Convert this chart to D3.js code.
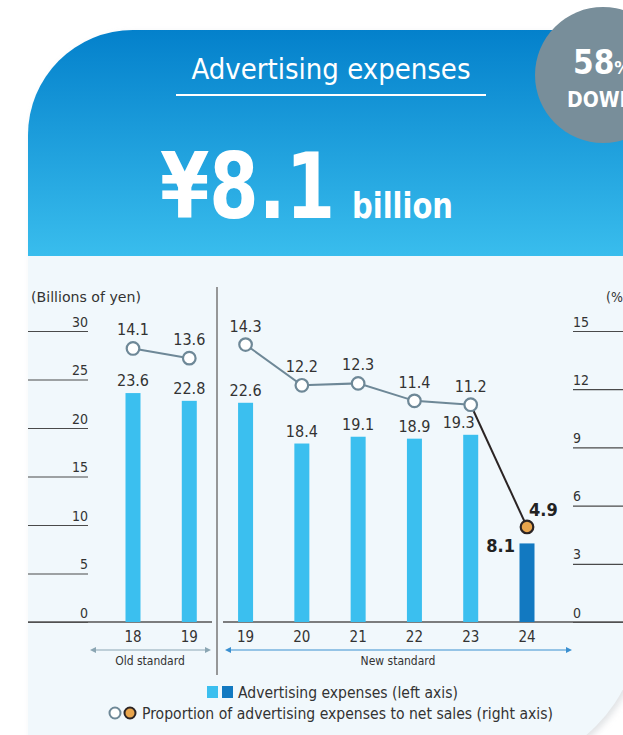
<!DOCTYPE html>
<html>
<head>
<meta charset="utf-8">
<script src="https://cdn.jsdelivr.net/npm/d3@7"></script>
<style>
  html, body { margin: 0; padding: 0; background: #ffffff; }
  svg { display: block; }
  text { font-family: "Liberation Sans Narrow", "DejaVu Sans Condensed", "Roboto", sans-serif; }
</style>
</head>
<body>
<svg id="chart" width="623" height="735"></svg>
<script>
// Fiscal years (old accounting standard: first two, new standard: the rest)
const years = ["18", "19", "19", "20", "21", "22", "23", "24"];
const standards = ["old", "old", "new", "new", "new", "new", "new", "new"];
// Advertising expenses, billions of yen (left axis)
const expenses = [23.6, 22.8, 22.6, 18.4, 19.1, 18.9, 19.3, 8.1];
// Advertising expenses as % of net sales (right axis)
const ratios = [14.1, 13.6, 14.3, 12.2, 12.3, 11.4, 11.2, 4.9];
const leftTicks = [0, 5, 10, 15, 20, 25, 30];
const rightTicks = [0, 3, 6, 9, 12, 15];

const svg = d3.select("#chart");
const defs = svg.append("defs");

// Card outline: large rounded top-left and bottom-right corners
const cardPath = "M28,770 L28,135 A105,105 0 0 1 133,30 L640,30 L640,620 A150,150 0 0 1 490,770 Z";
defs.append("clipPath").attr("id", "card").append("path").attr("d", cardPath);

const grad = defs.append("linearGradient").attr("id", "hdr")
  .attr("x1", 0).attr("y1", 0).attr("x2", 0).attr("y2", 1);
grad.append("stop").attr("offset", "0%").attr("stop-color", "#0380cb");
grad.append("stop").attr("offset", "100%").attr("stop-color", "#39bded");

const shadow = defs.append("filter").attr("id", "soft").attr("x", "-10%").attr("y", "-10%").attr("width", "130%").attr("height", "130%");
shadow.append("feGaussianBlur").attr("stdDeviation", 3);

// soft shadow under the card's lower right corner
svg.append("path").attr("d", cardPath).attr("fill", "#c9cdd1").attr("opacity", 0.55)
  .attr("transform", "translate(3,3)").attr("filter", "url(#soft)");

const card = svg.append("g").attr("clip-path", "url(#card)");
card.append("rect").attr("x", 28).attr("y", 256).attr("width", 620).attr("height", 520).attr("fill", "#f1f8fc");
card.append("rect").attr("x", 28).attr("y", 28).attr("width", 620).attr("height", 228).attr("fill", "url(#hdr)");

// Header
svg.append("text").attr("x", 331).attr("y", 79).attr("text-anchor", "middle")
  .attr("fill", "#fff").attr("font-size", 28)
  .attr("textLength", 279).attr("lengthAdjust", "spacingAndGlyphs")
  .text("Advertising expenses");
svg.append("line").attr("x1", 176).attr("x2", 486).attr("y1", 95).attr("y2", 95)
  .attr("stroke", "#fff").attr("stroke-width", 2);
svg.append("text").attr("x", 160).attr("y", 218)
  .attr("fill", "#fff").attr("font-size", 90).attr("font-weight", "bold")
  .attr("textLength", 175).attr("lengthAdjust", "spacingAndGlyphs")
  .text("¥8.1");
svg.append("text").attr("x", 352).attr("y", 218)
  .attr("fill", "#fff").attr("font-size", 36).attr("font-weight", "bold")
  .attr("textLength", 101).attr("lengthAdjust", "spacingAndGlyphs")
  .text("billion");

// Badge
svg.append("circle").attr("cx", 603).attr("cy", 75).attr("r", 68).attr("fill", "#788e9a");
const badge = svg.append("text").attr("x", 573).attr("y", 74).attr("fill", "#fff").attr("font-weight", "bold");
badge.append("tspan").attr("font-size", 33).text("58");
badge.append("tspan").attr("font-size", 18).text("%");
svg.append("text").attr("x", 567).attr("y", 107).attr("fill", "#fff")
  .attr("font-weight", "bold").attr("font-size", 21).text("DOWN");

// Scales
const x = d3.scalePoint().domain(d3.range(years.length)).range([133, 527]);
const yL = d3.scaleLinear().domain([0, 30]).range([622, 331]);
const yR = d3.scaleLinear().domain([0, 15]).range([622, 331]);

const textColor = "#333";

// Axis captions
svg.append("text").attr("x", 31).attr("y", 302).attr("font-size", 14).attr("fill", textColor)
  .attr("textLength", 110).attr("lengthAdjust", "spacingAndGlyphs").text("(Billions of yen)");
svg.append("text").attr("x", 606).attr("y", 302).attr("font-size", 14).attr("fill", textColor).text("(%)");

// Left axis: short rules with the value sitting on top
const axL = svg.append("g").attr("transform", "translate(28,0)")
  .call(d3.axisRight(yL).tickValues(leftTicks).tickSize(60).tickFormat(d3.format("d")));
axL.select(".domain").remove();
axL.selectAll(".tick line").attr("stroke", "#4a4a4a").attr("stroke-width", 1.2);
axL.selectAll(".tick text").attr("x", 60).attr("dy", -5).attr("text-anchor", "end")
  .attr("font-size", 14).attr("fill", textColor);

// Right axis
const axR = svg.append("g").attr("transform", "translate(573,0)")
  .call(d3.axisRight(yR).tickValues(rightTicks).tickSize(60).tickFormat(d3.format("d")));
axR.select(".domain").remove();
axR.selectAll(".tick line").attr("stroke", "#4a4a4a").attr("stroke-width", 1.2);
axR.selectAll(".tick text").attr("x", 0).attr("dy", -5).attr("text-anchor", "start")
  .attr("font-size", 14).attr("fill", textColor);

// Baseline, split at the change of accounting standard
svg.append("line").attr("x1", 28).attr("x2", 212).attr("y1", 622).attr("y2", 622).attr("stroke", "#555").attr("stroke-width", 1.6);
svg.append("line").attr("x1", 223).attr("x2", 640).attr("y1", 622).attr("y2", 622).attr("stroke", "#555").attr("stroke-width", 1.6);
svg.append("line").attr("x1", 217).attr("x2", 217).attr("y1", 287).attr("y2", 675).attr("stroke", "#777").attr("stroke-width", 1.5);

// Bars
const idx = d3.range(years.length);
const last = years.length - 1;
const barW = 15;
svg.append("g").selectAll("rect").data(idx).join("rect")
  .attr("x", i => x(i) - barW / 2).attr("width", barW)
  .attr("y", i => yL(expenses[i])).attr("height", i => yL(0) - yL(expenses[i]))
  .attr("fill", i => i === last ? "#1279c1" : "#3bbfef");

// Bar value labels (the one beside the steep final segment is nudged left of it)
svg.append("g").selectAll("text").data(idx.filter(i => i !== last)).join("text")
  .attr("x", i => x(i) - (i === last - 1 ? 12 : 0)).attr("y", i => yL(expenses[i]) - 7)
  .attr("text-anchor", "middle").attr("font-size", 16).attr("fill", textColor)
  .text(i => expenses[i].toFixed(1));
svg.append("text").attr("x", x(last) - 12).attr("y", yL(expenses[last]) + 9)
  .attr("text-anchor", "end").attr("font-size", 18).attr("font-weight", "bold").attr("fill", "#222")
  .text(expenses[last].toFixed(1));

// Ratio line
const line = d3.line().x(i => x(i)).y(i => yR(ratios[i]));
const lineColor = "#6e8897";
svg.append("path").attr("d", line([0, 1])).attr("fill", "none").attr("stroke", lineColor).attr("stroke-width", 2);
svg.append("path").attr("d", line([2, 3, 4, 5, 6])).attr("fill", "none").attr("stroke", lineColor).attr("stroke-width", 2);
svg.append("path").attr("d", line([6, 7])).attr("fill", "none").attr("stroke", "#2b2424").attr("stroke-width", 2);

svg.append("g").selectAll("circle").data(idx).join("circle")
  .attr("cx", i => x(i)).attr("cy", i => yR(ratios[i])).attr("r", 6.3)
  .attr("fill", i => i === last ? "#e9a54c" : "#ffffff")
  .attr("stroke", i => i === last ? "#2b2424" : lineColor).attr("stroke-width", 2.2);

svg.append("g").selectAll("text").data(idx.filter(i => i !== last)).join("text")
  .attr("x", i => x(i)).attr("y", i => yR(ratios[i]) - 13)
  .attr("text-anchor", "middle").attr("font-size", 16).attr("fill", textColor)
  .text(i => ratios[i].toFixed(1));
svg.append("text").attr("x", x(last) + 2).attr("y", yR(ratios[last]) - 11)
  .attr("text-anchor", "start").attr("font-size", 18).attr("font-weight", "bold").attr("fill", "#222")
  .text(ratios[last].toFixed(1));

// Year labels
svg.append("g").selectAll("text").data(idx).join("text")
  .attr("x", i => x(i)).attr("y", 642)
  .attr("text-anchor", "middle").attr("font-size", 15).attr("fill", textColor)
  .text(i => years[i]);

// Standard brackets (double-headed arrows)
function arrow(x1, x2, y, color) {
  const g = svg.append("g");
  g.append("line").attr("x1", x1 + 3).attr("x2", x2 - 3).attr("y1", y).attr("y2", y).attr("stroke", color).attr("stroke-width", 1.2);
  g.append("path").attr("d", `M${x1},${y} l6,-3 l0,6 Z`).attr("fill", color);
  g.append("path").attr("d", `M${x2},${y} l-6,-3 l0,6 Z`).attr("fill", color);
}
arrow(90, 211, 650, "#8ba6b3");
arrow(225, 572, 650, "#3a8fd0");
svg.append("text").attr("x", 150).attr("y", 665)
  .attr("text-anchor", "middle").attr("font-size", 12).attr("fill", textColor).text("Old standard");
svg.append("text").attr("x", 398).attr("y", 665)
  .attr("text-anchor", "middle").attr("font-size", 12).attr("fill", textColor).text("New standard");

// Legend
svg.append("rect").attr("x", 207).attr("y", 686).attr("width", 11).attr("height", 12).attr("fill", "#3bbfef");
svg.append("rect").attr("x", 222).attr("y", 686).attr("width", 11).attr("height", 12).attr("fill", "#1279c1");
svg.append("text").attr("x", 238).attr("y", 698).attr("font-size", 15).attr("fill", textColor)
  .attr("textLength", 220).attr("lengthAdjust", "spacingAndGlyphs")
  .text("Advertising expenses (left axis)");
svg.append("circle").attr("cx", 115).attr("cy", 713).attr("r", 5.5).attr("fill", "#fff").attr("stroke", lineColor).attr("stroke-width", 2);
svg.append("circle").attr("cx", 130).attr("cy", 713).attr("r", 5.5).attr("fill", "#e9a54c").attr("stroke", "#2b2424").attr("stroke-width", 2);
svg.append("text").attr("x", 142).attr("y", 719).attr("font-size", 15).attr("fill", textColor)
  .attr("textLength", 411).attr("lengthAdjust", "spacingAndGlyphs")
  .text("Proportion of advertising expenses to net sales (right axis)");
</script>
</body>
</html>
